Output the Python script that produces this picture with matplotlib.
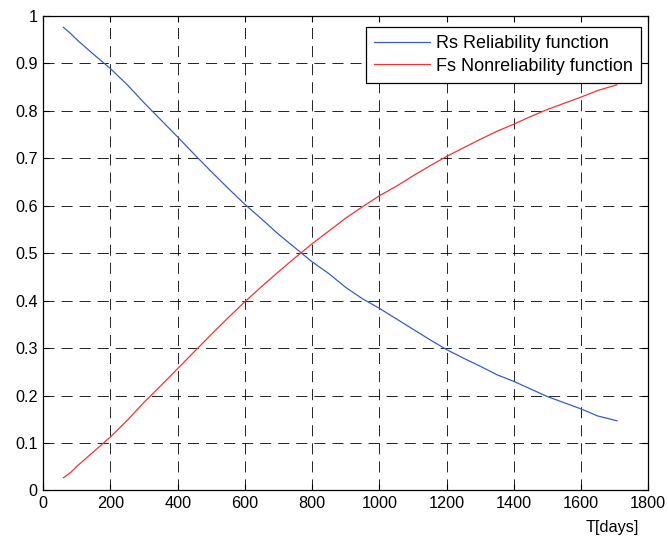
import matplotlib
matplotlib.use("Agg")
import matplotlib.pyplot as plt

plt.rcParams['font.family'] = ['Liberation Sans', 'DejaVu Sans']
plt.rcParams['lines.scale_dashes'] = False

# time axis (days) and the two curves
t_days = [60, 80, 100, 150, 200, 250, 300, 350, 400, 450, 500, 550, 600,
          650, 700, 750, 800, 850, 900, 950, 1000, 1050, 1100, 1150, 1200,
          1250, 1300, 1350, 1400, 1450, 1500, 1550, 1600, 1650, 1707]
rs_rel = [0.976, 0.964, 0.950, 0.919, 0.889, 0.855, 0.817, 0.781, 0.745,
          0.708, 0.672, 0.637, 0.603, 0.572, 0.540, 0.511, 0.482, 0.457,
          0.428, 0.404, 0.384, 0.362, 0.340, 0.318, 0.297, 0.279, 0.262,
          0.244, 0.230, 0.214, 0.198, 0.185, 0.172, 0.157, 0.147]
fs_nonrel = [0.027, 0.037, 0.051, 0.082, 0.113, 0.148, 0.186, 0.221, 0.257,
             0.293, 0.329, 0.364, 0.398, 0.430, 0.461, 0.491, 0.520, 0.547,
             0.574, 0.598, 0.621, 0.641, 0.663, 0.684, 0.704, 0.722, 0.740,
             0.757, 0.772, 0.788, 0.803, 0.816, 0.829, 0.843, 0.855]

x_ticks = [0, 200, 400, 600, 800, 1000, 1200, 1400, 1600, 1800]
y_ticks = [0, 0.1, 0.2, 0.3, 0.4, 0.5, 0.6, 0.7, 0.8, 0.9, 1]
y_labels = ['0', '0.1', '0.2', '0.3', '0.4', '0.5', '0.6', '0.7', '0.8', '0.9', '1']

fig = plt.figure(figsize=(6.68, 5.37), dpi=100)
ax = fig.add_axes([0.0648, 0.0866, 0.9055, 0.8836])

ax.plot(t_days, rs_rel, color='#3a5cc4', lw=0.9, label='Rs Reliability function')
ax.plot(t_days, fs_nonrel, color='#f03434', lw=0.9, label='Fs Nonreliability function')

ax.set_xlim(0, 1800)
ax.set_ylim(0, 1)
ax.set_xticks(x_ticks)
ax.set_yticks(y_ticks)
ax.set_yticklabels(y_labels)

# MATLAB style: dashed grid, inward ticks on every side
ax.grid(True, color='k', lw=0.6, linestyle=(0, (8, 5)))
ax.tick_params(direction='in', length=4, width=0.8, top=True, right=True,
               labelsize=11.7, pad=4)
for sp in ax.spines.values():
    sp.set_linewidth(0.9)

ax.set_xlabel('T[days]', fontsize=11.7, ha='right')
ax.xaxis.set_label_coords(0.985, -0.062)

leg = ax.legend(loc='upper right', bbox_to_anchor=(0.9885, 0.977), borderaxespad=0,
                fontsize=13, fancybox=False, framealpha=1, edgecolor='k',
                handlelength=3.1, handletextpad=0.32, labelspacing=0.32,
                borderpad=0.45)
leg.get_frame().set_linewidth(0.9)

fig.savefig('out.png', dpi=100)
